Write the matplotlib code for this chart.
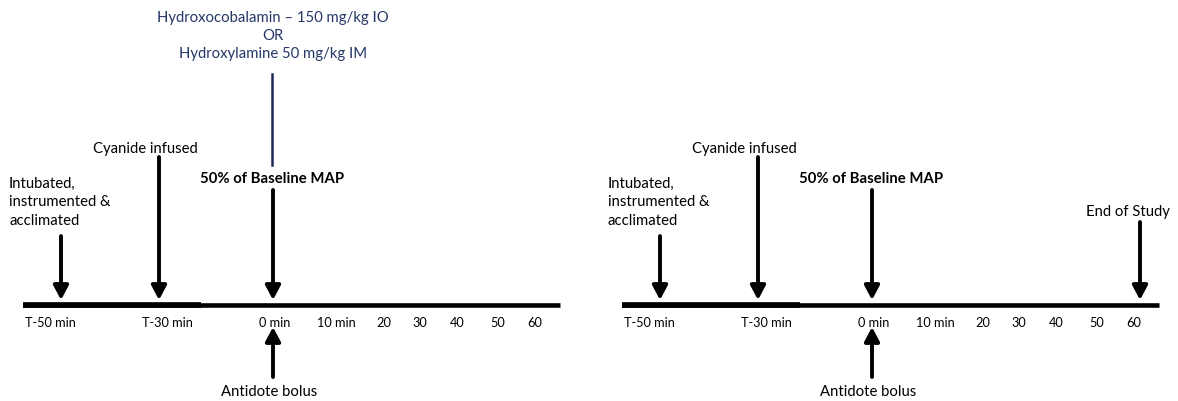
import numpy as np
import matplotlib.pyplot as plt

plt.rcParams['font.family'] = ['Lato', 'DejaVu Sans']

# ---- data ----
tick_minutes = [-50, -30, 0, 10, 20, 30, 40, 50, 60]
tick_labels = ["T-50 min", "T-30 min", "0 min", "10 min", "20", "30", "40", "50", "60"]

event_minutes = [-50, -30, 0]
event_labels = ["Intubated,\ninstrumented &\nacclimated", "Cyanide infused", "50% of Baseline MAP"]
end_minute = 60
end_label = "End of Study"
antidote_minute = 0
antidote_label = "Antidote bolus"
drug_text = "Hydroxocobalamin \u2013 150 mg/kg IO\nOR\nHydroxylamine 50 mg/kg IM"

# ---- layout (pixels) ----
W, H = 1178, 402
anchor_min = [-50, -30, 0, 60]
anchor_px = [61, 159, 273, 541]
panel_offset = [0, 599]
tick_nudge = [-11, 8, 2, 19, 21, 13, 6, 1, -6]
axis_y = 305.5
label_fs = 10.7
tick_fs = 9.2
navy = '#1c2656'
blue_text = '#253766'


def xpos(m, off):
    return np.interp(m, anchor_min, anchor_px) + off


fig = plt.figure(figsize=(W / 100, H / 100), dpi=100)
ax = fig.add_axes([0, 0, 1, 1])
ax.set_xlim(0, W)
ax.set_ylim(H, 0)
ax.axis('off')

arrow_kw = dict(arrowstyle='-|>,head_length=0.85,head_width=0.45', lw=2.8, color='black',
                shrinkA=0, shrinkB=0, mutation_scale=10)
arrow_tops = [237, 158, 191]

for off in panel_offset:
    # timeline bar
    ax.plot([23 + off, 560 + off], [axis_y + 0.5, axis_y + 0.5], color='black', lw=3.3, solid_capstyle='butt')
    ax.plot([23 + off, 201 + off], [axis_y, axis_y], color='black', lw=4.1, solid_capstyle='butt')

    for m, lab, nud in zip(tick_minutes, tick_labels, tick_nudge):
        ax.text(xpos(m, off) + nud, 323, lab, ha='center', va='center', fontsize=tick_fs)

    # events with down arrows
    for m, lab, top in zip(event_minutes, event_labels, arrow_tops):
        x = xpos(m, off)
        ax.annotate('', xy=(x, 301), xytext=(x, top), arrowprops=arrow_kw)
        if m == -50:
            ax.text(9 + off, 202.5, lab, ha='left', va='center', fontsize=label_fs, linespacing=1.38)
        elif m == -30:
            ax.text(x - 14, 149, lab, ha='center', va='center', fontsize=label_fs)
        else:
            ax.text(x - 1, 179, lab, ha='center', va='center', fontsize=label_fs, fontweight='bold')

    # antidote up arrow
    x0 = xpos(antidote_minute, off)
    ax.annotate('', xy=(x0, 328), xytext=(x0, 378), arrowprops=arrow_kw)
    ax.text(x0 - 4, 392, antidote_label, ha='center', va='center', fontsize=label_fs)

# left panel: antidote options
x0 = xpos(0, panel_offset[0]) - 1
ax.plot([x0, x0], [75, 166], color=navy, lw=1.8)
ax.text(x0 + 1, 36, drug_text, ha='center', va='center', fontsize=label_fs,
        color=blue_text, linespacing=1.38)

# right panel: end of study
xe = xpos(end_minute, panel_offset[1])
ax.annotate('', xy=(xe, 301), xytext=(xe, 223), arrowprops=arrow_kw)
ax.text(xe - 12, 212, end_label, ha='center', va='center', fontsize=label_fs)

fig.savefig('out.png', dpi=100)
